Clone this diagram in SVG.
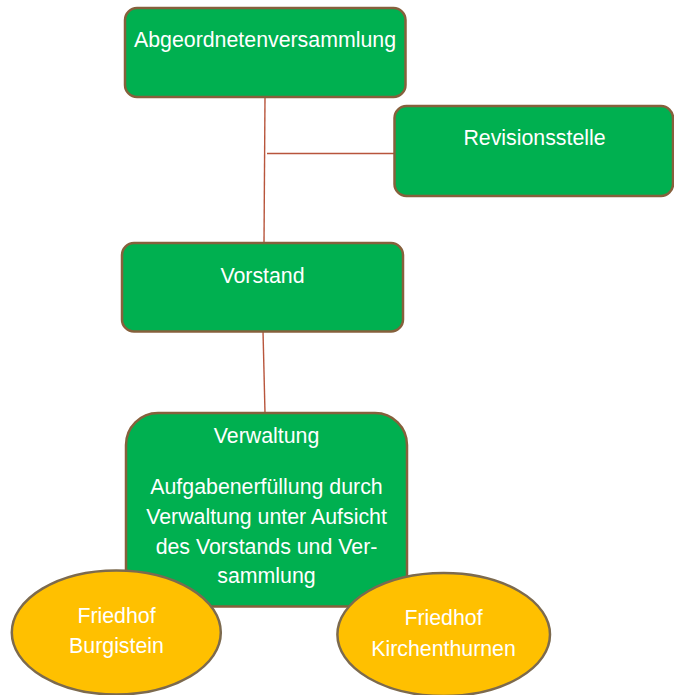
<svg xmlns="http://www.w3.org/2000/svg" width="674" height="695" viewBox="0 0 674 695">
<style>
.box{fill:#00B050;stroke:#86603C;stroke-width:2.5}
.oval{fill:#FFC000;stroke:#7C6A4E;stroke-width:2.5}
.conn{stroke:#B8553C;stroke-width:1.4;fill:none}
text{font-family:"Liberation Sans",Arial,sans-serif;font-size:21.33px;fill:#FFFFFF;text-anchor:middle}
</style>
<rect width="674" height="695" fill="#FFFFFF"/>
<g id="connectors">
<line class="conn" x1="265" y1="97" x2="264" y2="243"/>
<line class="conn" x1="267" y1="153.5" x2="394" y2="153.5"/>
<line class="conn" x1="263" y1="331" x2="265" y2="413"/>
</g>
<g id="abgeordnetenversammlung">
<rect class="box" x="125" y="8" width="280.5" height="89" rx="12"/>
<text x="265" y="46.5">Abgeordnetenversammlung</text>
</g>
<g id="revisionsstelle">
<rect class="box" x="394.5" y="106" width="278.5" height="90" rx="12"/>
<text x="534.5" y="145">Revisionsstelle</text>
</g>
<g id="vorstand">
<rect class="box" x="122" y="243" width="281" height="88.5" rx="12"/>
<text x="262.5" y="282.5">Vorstand</text>
</g>
<g id="verwaltung">
<path class="box" d="M126,606.5 L126,445 A32,32 0 0 1 158,413 L375,413 A32,32 0 0 1 407,445 L407,606.5 Z"/>
<text x="266.5" y="443.3">Verwaltung</text>
<text x="266.5" y="494.3">Aufgabenerfüllung durch</text>
<text x="266.5" y="524.3">Verwaltung unter Aufsicht</text>
<text x="266.5" y="554">des Vorstands und Ver-</text>
<text x="266.5" y="583.3">sammlung</text>
</g>
<g id="friedhof-burgistein">
<ellipse class="oval" cx="116.3" cy="632.5" rx="104.5" ry="62"/>
<text x="116.5" y="623.3">Friedhof</text>
<text x="116.5" y="652.7">Burgistein</text>
</g>
<g id="friedhof-kirchenthurnen">
<ellipse class="oval" cx="443.7" cy="634.5" rx="106.3" ry="61.5"/>
<text x="443.5" y="625">Friedhof</text>
<text x="443.5" y="655.5">Kirchenthurnen</text>
</g>
</svg>
